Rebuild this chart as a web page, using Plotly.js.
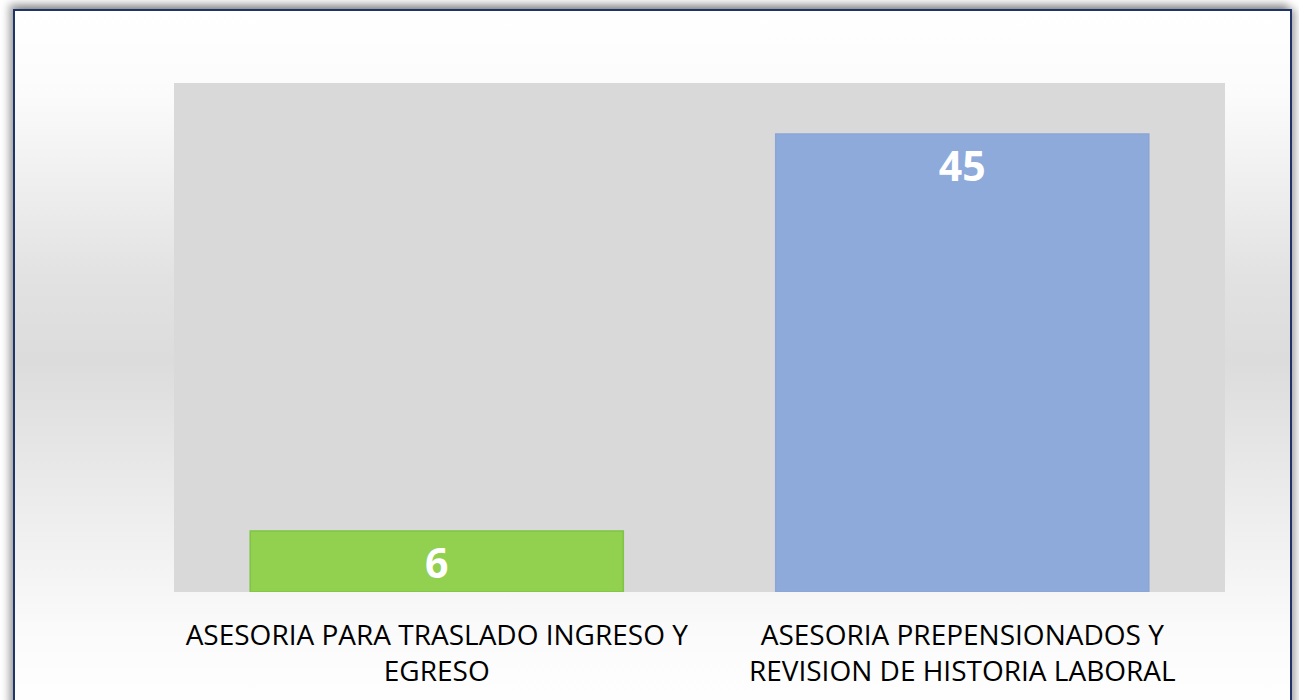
<!DOCTYPE html>
<html>
<head>
<meta charset="utf-8">
<script src="https://cdn.plot.ly/plotly-3.0.1.min.js"></script>
<style>
  html, body { margin: 0; padding: 0; width: 1299px; height: 700px; overflow: hidden; background: #ffffff; }
  #frame {
    position: absolute; left: 13px; top: 9px; width: 1275px; height: 700px;
    border: 2px solid #1f3468;
    box-shadow: -4px -5px 8px rgba(0,0,0,0.35), 4px 0px 8px rgba(0,0,0,0.3);
    background: linear-gradient(to bottom, #ffffff 0%, #fbfbfb 12%, #e2e2e2 38%, #dcdcdc 50%, #ececec 70%, #fafafa 88%, #ffffff 100%);
  }
  #chart { position: absolute; left: 0; top: 0; width: 1299px; height: 700px; }
</style>
</head>
<body>
<div id="frame"></div>
<div id="chart"></div>
<script>
const categories = [
  "ASESORIA PARA TRASLADO INGRESO Y<br>EGRESO",
  "ASESORIA PREPENSIONADOS Y<br>REVISION DE HISTORIA LABORAL"
];
const values = [6, 45];
const barColors = ["#92d050", "#8eaadb"];
const barLineColors = ["#7ec445", "#8aa5d6"];

const trace = {
  type: "bar",
  x: categories,
  y: values,
  width: 0.71,
  marker: { color: barColors, line: { color: barLineColors, width: 1.5 } },
  text: values.map(String),
  textposition: "inside",
  insidetextanchor: "end",
  textangle: 0,
  constraintext: "none",
  textfont: { family: "Open Sans, sans-serif", size: 41, color: "#ffffff", weight: "bold" },
  hoverinfo: "skip"
};

const layout = {
  width: 1299, height: 700,
  margin: { l: 174, r: 74, t: 83, b: 108, pad: 0 },
  paper_bgcolor: "rgba(0,0,0,0)",
  plot_bgcolor: "#d9d9d9",
  showlegend: false,
  xaxis: {
    showgrid: false, zeroline: false, showline: false, ticks: "",
    tickfont: { family: "Open Sans, sans-serif", size: 28, color: "#000000" },
    ticklabelstandoff: 24
  },
  yaxis: {
    range: [0, 50], showgrid: false, zeroline: false, showline: false,
    showticklabels: false, ticks: ""
  }
};

Plotly.newPlot("chart", [trace], layout, { displayModeBar: false, staticPlot: true });
</script>
</body>
</html>
